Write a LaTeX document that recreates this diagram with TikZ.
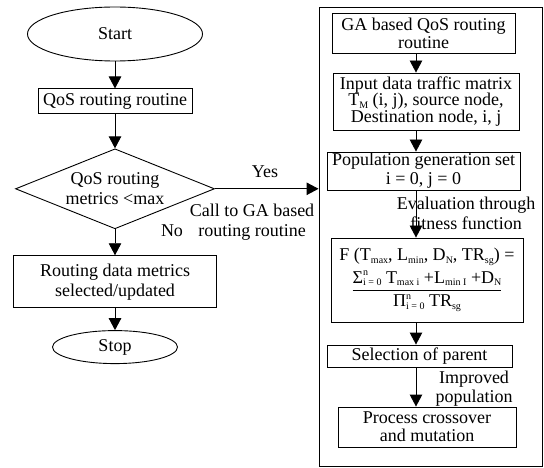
\documentclass[tikz,border=0pt]{standalone}
\usepackage{fontspec}
\usepackage{amsmath}
\usepackage{tikz}
\usetikzlibrary{arrows.meta,positioning,shapes.geometric}
\setmainfont{Liberation Serif}
\newcommand{\subx}[1]{\raisebox{-0.35ex}{\fontsize{10}{10}\selectfont #1}}
\newcommand{\supx}[1]{\raisebox{0.9ex}{\fontsize{10}{10}\selectfont #1}}

\begin{document}
\begin{tikzpicture}[x=1pt,y=-1pt,font=\fontsize{18}{20}\selectfont,
  bx/.style={draw,line width=0.9pt,inner sep=0pt,align=center},
  el/.style={draw,line width=0.9pt,ellipse,inner sep=0pt},
  dm/.style={draw,line width=0.9pt,diamond,aspect=2.49,inner sep=0pt,align=center},
  lb/.style={inner sep=0pt,align=center},
  a/.style={-{Triangle[length=12pt,width=12.5pt]},line width=0.9pt}]
\useasboundingbox (0,0) rectangle (544,468);
% left loop
\node[el,minimum width=175pt,minimum height=54pt] (n1) at (115,34) {Start};
\node[bx,minimum width=154pt,minimum height=25pt,below=27pt of n1] (n2) {QoS routing routine};
\node[dm,minimum width=199pt,minimum height=80pt,below=34pt of n2] (n3) {QoS routing\\metrics <max};
\node[bx,minimum width=203pt,minimum height=52pt,below=26pt of n3] (n4) {Routing data metrics\\selected/updated};
\node[el,minimum width=125pt,minimum height=33pt,below=22pt of n4] (n5) {Stop};
% GA routine
\node[bx,minimum width=223pt,minimum height=459pt] (n6) at (430.5,236.5) {};
\node[bx,minimum width=183pt,minimum height=40pt,font=\fontsize{18}{18}\selectfont] (n7) at (423.5,33) {GA based QoS routing\\routine};
\node[bx,minimum width=186pt,minimum height=57pt,font=\fontsize{18}{16.5}\selectfont] (n8) at (426,101.5) {Input data traffic matrix\\T\subx{M} (i, j), source node,\\Destination node, i, j};
\node[bx,minimum width=193pt,minimum height=38pt,font=\fontsize{18}{19}\selectfont] (n9) at (423.5,171) {Population generation set\\i = 0, j = 0};
\node[bx,minimum width=192pt,minimum height=84pt] (n10) at (427,280) {F (T\subx{max}, L\subx{min}, D\subx{N}, TR\subx{sg}) =\\[4pt]
  $\dfrac{\text{Σ\rlap{\supx{n}}\subx{i = 0} T\subx{max i} +L\subx{min I} +D\subx{N}}}{\text{Π\rlap{\supx{n}}\subx{i = 0} TR\subx{sg}}}$};
\node[bx,minimum width=185pt,minimum height=22pt] (n11) at (419.5,356) {Selection of parent};
\node[bx,minimum width=178pt,minimum height=40pt,font=\fontsize{18}{18}\selectfont] (n12) at (427,427) {Process crossover\\and mutation};
\coordinate (rx) at (416,0);
% labels
\node[lb] (y1) at (265,172) {Yes};
\node[lb] (c1) at (252,222) {Call to GA based\\routing routine};
\node[lb] (o1) at (172,231) {No};
\node[lb] (e1) at (466,213) {Evaluation through\\fitness function};
\node[lb,font=\fontsize{18}{19}\selectfont] (p1) at (474,388.5) {Improved\\population};
\foreach \i/\j in {n1/n2,n2/n3,n3/n4,n4/n5}
  \draw[a](\i)--(\j);
\foreach \i/\j in {n7/n8,n8/n9,n9/n10,n10/n11,n11/n12}
  \draw[a](\i.south-|rx)--(\j.north-|rx);
\draw[a](n3.east)--(n3.east-|n6.west);
\end{tikzpicture}
\end{document}
